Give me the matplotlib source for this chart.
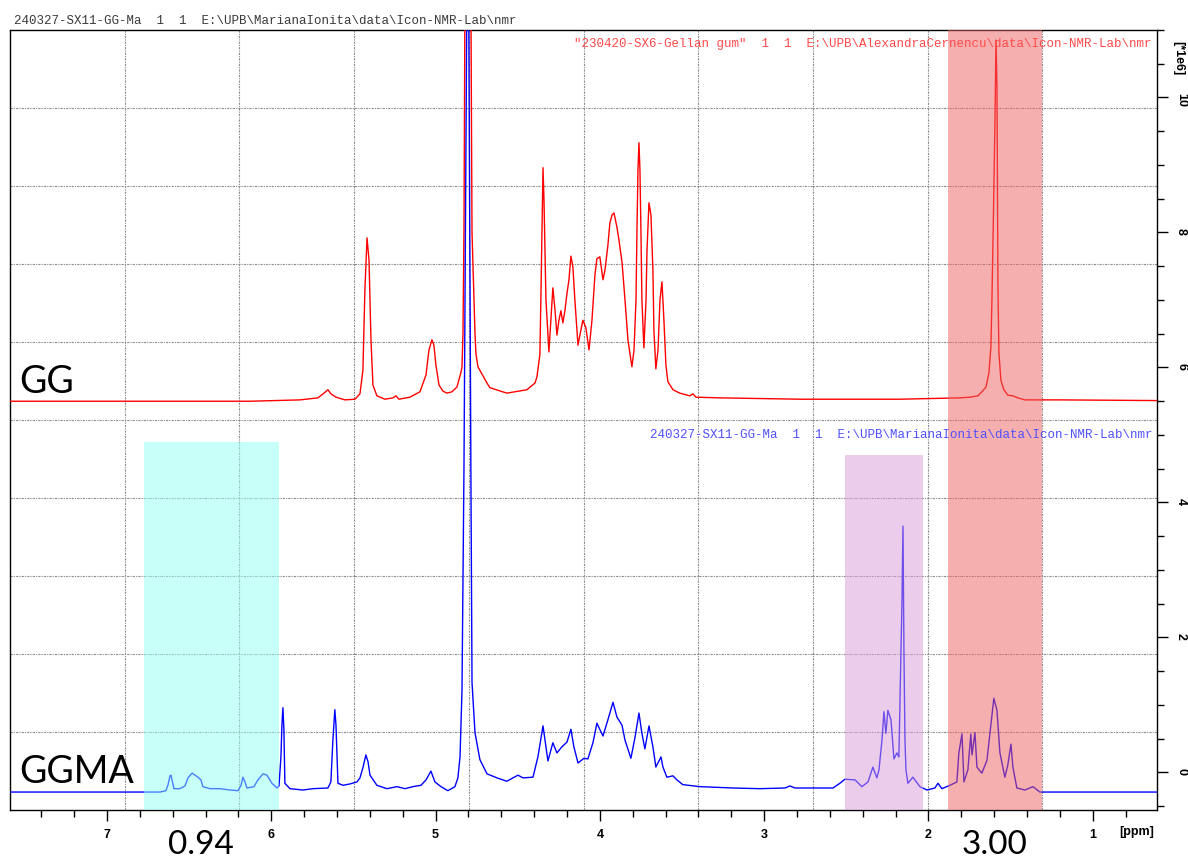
import numpy as np
import matplotlib
matplotlib.use("Agg")
import matplotlib.pyplot as plt
from matplotlib.ticker import MultipleLocator, FormatStrFormatter

W, H = 1188, 863

# Axis ranges: chemical shift (ppm, reversed) and intensity (units of 1e6)
x_range = (7.590, 0.609)
y_range = (-0.556, 11.0)

# GG spectrum (offset trace)
gg_ppm = [7.590, 6.738, 6.129, 5.825, 5.716, 5.679, 5.655, 5.637, 5.606, 5.551,
          5.490, 5.460, 5.442, 5.430, 5.417, 5.405, 5.393, 5.381, 5.357, 5.308,
          5.259, 5.241, 5.223, 5.156, 5.095, 5.058, 5.040, 5.022, 5.010, 4.998,
          4.979, 4.955, 4.931, 4.900, 4.870, 4.845, 4.839, 4.833, 4.827, 4.821,
          4.803, 4.785, 4.778, 4.760, 4.754, 4.742, 4.687, 4.669, 4.566, 4.444,
          4.395, 4.383, 4.365, 4.359, 4.352, 4.346, 4.340, 4.328, 4.310, 4.298,
          4.286, 4.273, 4.261, 4.249, 4.237, 4.225, 4.212, 4.200, 4.188, 4.176,
          4.164, 4.152, 4.133, 4.115, 4.103, 4.085, 4.066, 4.048, 4.030, 4.018,
          4.000, 3.981, 3.969, 3.951, 3.939, 3.926, 3.914, 3.896, 3.884, 3.865,
          3.847, 3.829, 3.805, 3.792, 3.780, 3.774, 3.768, 3.762, 3.756, 3.750,
          3.744, 3.732, 3.719, 3.713, 3.701, 3.689, 3.677, 3.671, 3.659, 3.646,
          3.634, 3.622, 3.610, 3.598, 3.586, 3.555, 3.513, 3.452, 3.434, 3.415,
          3.269, 2.782, 2.174, 1.808, 1.748, 1.699, 1.675, 1.650, 1.632, 1.620,
          1.614, 1.605, 1.595, 1.589, 1.583, 1.580, 1.577, 1.571, 1.559, 1.541,
          1.517, 1.486, 1.456, 1.413, 1.200, 0.609]
gg_int = [5.50, 5.50, 5.50, 5.52, 5.55, 5.62, 5.67, 5.61, 5.56, 5.52,
          5.53, 5.61, 5.96, 7.15, 7.92, 7.59, 6.41, 5.74, 5.58, 5.53,
          5.55, 5.58, 5.53, 5.56, 5.64, 5.89, 6.26, 6.41, 6.33, 6.04,
          5.74, 5.65, 5.62, 5.64, 5.71, 5.93, 6.01, 6.51, 8.00, 11.5,
          14.0, 11.5, 8.00, 6.51, 6.20, 6.01, 5.77, 5.70, 5.62, 5.67,
          5.77, 5.86, 6.19, 7.00, 8.04, 8.96, 8.48, 7.00, 6.23, 6.70,
          7.18, 6.85, 6.48, 6.70, 6.84, 6.66, 6.85, 7.10, 7.30, 7.65,
          7.49, 7.00, 6.33, 6.56, 6.70, 6.59, 6.26, 6.70, 7.37, 7.61,
          7.64, 7.30, 7.44, 7.81, 8.14, 8.26, 8.29, 8.08, 7.89, 7.56,
          7.00, 6.41, 6.01, 6.26, 7.00, 8.04, 8.93, 9.33, 8.93, 8.04,
          7.00, 6.29, 7.00, 7.74, 8.44, 8.26, 7.44, 6.55, 5.98, 6.26,
          7.00, 7.27, 6.70, 6.04, 5.79, 5.67, 5.62, 5.58, 5.61, 5.56,
          5.55, 5.53, 5.53, 5.55, 5.56, 5.58, 5.64, 5.71, 5.92, 6.30,
          6.96, 8.19, 9.67, 10.85, 10.16, 8.67, 7.19, 6.21, 5.81, 5.67,
          5.59, 5.58, 5.55, 5.52, 5.52, 5.51]

# GGMA spectrum
ggma_ppm = [7.590, 6.860, 6.677, 6.641, 6.629, 6.616, 6.610, 6.604, 6.592, 6.556,
            6.525, 6.507, 6.482, 6.464, 6.446, 6.428, 6.416, 6.373, 6.312, 6.251,
            6.202, 6.184, 6.172, 6.160, 6.148, 6.105, 6.081, 6.050, 6.026, 5.996,
            5.965, 5.953, 5.941, 5.935, 5.929, 5.923, 5.917, 5.886, 5.807, 5.746,
            5.655, 5.637, 5.625, 5.613, 5.606, 5.594, 5.563, 5.521, 5.478, 5.460,
            5.442, 5.424, 5.411, 5.399, 5.357, 5.296, 5.235, 5.186, 5.138, 5.089,
            5.058, 5.028, 5.004, 4.967, 4.925, 4.882, 4.864, 4.851, 4.839, 4.827,
            4.803, 4.785, 4.778, 4.760, 4.730, 4.687, 4.626, 4.566, 4.529, 4.498,
            4.468, 4.407, 4.377, 4.346, 4.316, 4.286, 4.261, 4.231, 4.200, 4.176,
            4.158, 4.133, 4.097, 4.073, 4.042, 4.018, 3.981, 3.951, 3.920, 3.896,
            3.865, 3.847, 3.811, 3.786, 3.762, 3.744, 3.726, 3.701, 3.677, 3.659,
            3.628, 3.616, 3.592, 3.555, 3.531, 3.495, 3.391, 3.190, 3.026, 2.873,
            2.843, 2.813, 2.660, 2.581, 2.539, 2.508, 2.447, 2.405, 2.368, 2.338,
            2.314, 2.301, 2.283, 2.271, 2.259, 2.247, 2.228, 2.210, 2.192, 2.180,
            2.174, 2.161, 2.155, 2.149, 2.143, 2.137, 2.125, 2.095, 2.052, 2.009,
            1.961, 1.942, 1.918, 1.869, 1.827, 1.815, 1.796, 1.784, 1.760, 1.742,
            1.735, 1.717, 1.705, 1.675, 1.644, 1.626, 1.602, 1.583, 1.565, 1.535,
            1.517, 1.498, 1.486, 1.462, 1.413, 1.364, 1.322, 1.243, 0.609]
ggma_int = [-0.29, -0.29, -0.29, -0.27, -0.19, -0.05, -0.04, -0.11, -0.24, -0.24,
            -0.20, -0.08, -0.01, -0.04, -0.07, -0.11, -0.21, -0.24, -0.24, -0.26,
            -0.27, -0.19, -0.07, -0.14, -0.23, -0.21, -0.11, -0.02, -0.04, -0.16,
            -0.23, -0.20, 0.23, 0.70, 0.96, 0.64, -0.16, -0.24, -0.26, -0.24,
            -0.23, -0.14, 0.47, 0.93, 0.70, -0.16, -0.19, -0.17, -0.14, -0.08,
            0.07, 0.26, 0.16, -0.04, -0.19, -0.24, -0.21, -0.24, -0.21, -0.19,
            -0.11, 0.02, -0.14, -0.21, -0.27, -0.21, -0.08, 0.23, 1.22, 4.50,
            14.0, 4.50, 1.33, 0.59, 0.19, -0.02, -0.08, -0.13, -0.08, -0.04,
            -0.08, -0.07, 0.23, 0.69, 0.17, 0.44, 0.29, 0.38, 0.45, 0.64,
            0.38, 0.14, 0.21, 0.20, 0.44, 0.73, 0.54, 0.78, 1.04, 0.82,
            0.70, 0.48, 0.21, 0.52, 0.88, 0.58, 0.35, 0.69, 0.38, 0.08,
            0.23, 0.08, -0.07, -0.05, -0.11, -0.18, -0.21, -0.23, -0.24, -0.23,
            -0.20, -0.23, -0.23, -0.23, -0.16, -0.10, -0.11, -0.21, -0.14, 0.08,
            -0.08, 0.04, 0.48, 0.90, 0.58, 0.92, 0.78, 0.20, 0.29, 0.23,
            0.97, 2.55, 3.65, 1.77, 0.48, 0.04, -0.16, -0.07, -0.21, -0.26,
            -0.23, -0.16, -0.24, -0.19, -0.14, 0.29, 0.57, -0.14, 0.04, 0.57,
            0.26, 0.59, 0.08, -0.01, 0.18, 0.58, 1.10, 0.92, 0.29, -0.07,
            0.11, 0.42, 0.08, -0.23, -0.26, -0.21, -0.29, -0.29, -0.29]

# Integration regions: (ppm start, ppm end, top intensity)
region_vinyl = (6.775, 5.953, 4.90)
region_mid = (2.508, 2.034, 4.70)
region_methyl = (1.882, 1.310, y_range[1])
region_colors = ["#91fff5", "#d99dd9", "#ed6161"]

# Integral values printed under the regions
integral_labels = ["0.94", "3.00"]
integral_ppm = [6.43, 1.60]

sample_labels = ["GG", "GGMA"]
header_text = r"240327-SX11-GG-Ma  1  1  E:\UPB\MarianaIonita\data\Icon-NMR-Lab\nmr"
gg_title = r'"230420-SX6-Gellan gum"  1  1  E:\UPB\AlexandraCernencu\data\Icon-NMR-Lab\nmr'
ggma_title = r"240327-SX11-GG-Ma  1  1  E:\UPB\MarianaIonita\data\Icon-NMR-Lab\nmr"


def fx(px):
    return px / W


def fy(py):
    return 1 - py / H


fig = plt.figure(figsize=(W / 100, H / 100), dpi=100)
fig.patch.set_facecolor("white")
ax = fig.add_axes([fx(10), fy(810), 1147 / W, 780 / H])
ax.set_xlim(*x_range)
ax.set_ylim(*y_range)

# Grid dividing the frame into ten equal parts each way
for xv in np.linspace(x_range[0], x_range[1], 11)[1:-1]:
    ax.axvline(xv, color="#8c8c8c", lw=0.8, ls=(0, (2, 1, 1, 1)), zorder=1)
for yv in np.linspace(y_range[0], y_range[1], 11)[1:-1]:
    ax.axhline(yv, color="#8c8c8c", lw=0.8, ls=(0, (2, 1, 1, 1)), zorder=1)

ax.plot(gg_ppm, gg_int, color="#ff0000", lw=1.0, zorder=3)
ax.plot(ggma_ppm, ggma_int, color="#0000ff", lw=1.0, zorder=4)

for (x0, x1, top), col in zip([region_vinyl, region_mid, region_methyl], region_colors):
    ax.fill_between([x0, x1], y_range[0], top, color=col, alpha=0.5, lw=0, zorder=5)

# Axes styling
for s in ax.spines.values():
    s.set_linewidth(1.0)
    s.set_color("black")
ax.yaxis.tick_right()
ax.xaxis.set_major_locator(MultipleLocator(1))
ax.xaxis.set_minor_locator(MultipleLocator(0.2))
ax.yaxis.set_major_locator(MultipleLocator(2))
ax.yaxis.set_minor_locator(MultipleLocator(0.5))
ax.xaxis.set_major_formatter(FormatStrFormatter("%d"))
ax.yaxis.set_major_formatter(FormatStrFormatter("%d"))
ax.tick_params(which="major", length=8, width=1.0, direction="out", pad=6)
ax.tick_params(which="minor", length=5, width=1.0, direction="out")
ax.tick_params(axis="y", labelrotation=-90, pad=5)
for lab in ax.get_xticklabels() + ax.get_yticklabels():
    lab.set_fontfamily(["Liberation Sans", "DejaVu Sans"])
    lab.set_fontweight("bold")
    lab.set_fontsize(9)

mono = ["Liberation Mono", "DejaVu Sans Mono"]
fig.text(fx(14), fy(24), header_text, family=mono, fontsize=9, color="#3a3a3a",
         ha="left", va="baseline")
fig.text(fx(1152), fy(47), gg_title, family=mono, fontsize=9, color="#ff4a4a",
         ha="right", va="baseline", zorder=2)
fig.text(fx(1152), fy(438), ggma_title, family=mono, fontsize=9, color="#5050ff",
         ha="right", va="baseline")

sans = ["Lato", "DejaVu Sans"]
fig.text(fx(19), fy(393), sample_labels[0], family=sans, fontsize=27, color="black",
         ha="left", va="baseline")
fig.text(fx(19), fy(783), sample_labels[1], family=sans, fontsize=27, color="black",
         ha="left", va="baseline")

# Integral values below the axis, x in data units, y in axes fraction
trans = ax.get_xaxis_transform()
label_y = (810 - 854) / 780
for txt, xp in zip(integral_labels, integral_ppm):
    ax.text(xp, label_y, txt, transform=trans, family=sans, fontsize=24,
            color="black", ha="center", va="baseline", clip_on=False)

fig.text(fx(1137), fy(832), "[ppm]", family=["Liberation Sans", "DejaVu Sans"],
         fontsize=9, fontweight="bold", ha="center", va="center")
fig.text(fx(1178), fy(58), "[*1e6]", family=["Liberation Sans", "DejaVu Sans"],
         fontsize=9, fontweight="bold", ha="center", va="center", rotation=-90)

fig.savefig("out.png", dpi=100, facecolor="white")
